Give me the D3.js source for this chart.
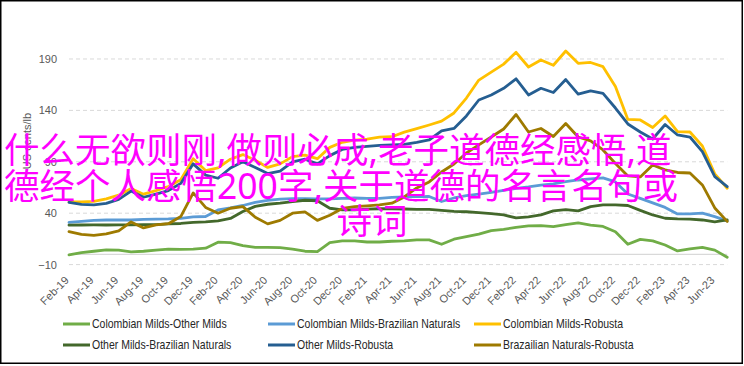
<!DOCTYPE html>
<html><head><meta charset="utf-8">
<script src="https://cdn.jsdelivr.net/npm/d3@7"></script>
<style>
html,body{margin:0;padding:0;background:#fff;}
svg{display:block;}
</style></head>
<body><svg id="c" width="744" height="366"></svg>
<script>
const months = ["Feb-19","Mar-19","Apr-19","May-19","Jun-19","Jul-19","Aug-19","Sep-19","Oct-19","Nov-19","Dec-19",
"Jan-20","Feb-20","Mar-20","Apr-20","May-20","Jun-20","Jul-20","Aug-20","Sep-20","Oct-20","Nov-20","Dec-20",
"Jan-21","Feb-21","Mar-21","Apr-21","May-21","Jun-21","Jul-21","Aug-21","Sep-21","Oct-21","Nov-21","Dec-21",
"Jan-22","Feb-22","Mar-22","Apr-22","May-22","Jun-22","Jul-22","Aug-22","Sep-22","Oct-22","Nov-22","Dec-22",
"Jan-23","Feb-23","Mar-23","Apr-23","May-23","Jun-23","Jul-23"];
const xTickLabels = months.filter((m,i)=>i%2===0);
const yTickValues = [-10, 40, 90, 140, 190];

const seriesNames = ["Colombian Milds-Other Milds","Colombian Milds-Brazilian Naturals","Colombian Milds-Robusta",
"Other Milds-Brazilian Naturals","Other Milds-Robusta","Brazailian Naturals-Robusta"];
const seriesColors = ["#70AD47","#5B9BD5","#FFC000","#43682B","#255E91","#9E7A00"];

const colOther = [-0.6,1.7,3.0,4.3,4.0,2.3,3.0,4.0,5.0,4.9,5.0,6.0,11.8,11.3,8.5,6.7,6.8,6.5,5.0,3.0,2.7,11.4,13.0,13.0,12.0,12.0,12.7,13.0,14.0,14.0,9.8,14.7,17.2,19.7,23.0,24.2,26.3,27.6,27.9,26.9,28.9,30.5,28.4,27.1,22.0,9.8,14.5,13.0,9.1,3.3,5.2,6.7,4.1,-2.8];
const colBraz = [31.0,32.0,33.0,33.4,33.4,33.4,33.9,34.2,34.4,34.9,36.4,36.8,43.2,45.1,47.5,50.5,52.4,53.6,54.2,54.1,53.9,53.9,54.4,54.8,54.4,54.4,55.3,55.8,56.1,56.3,51.4,54.8,57.0,58.5,60.2,62.1,64.1,65.5,67.3,68.4,70.6,72.3,73.3,74.3,70.4,58.7,54.4,50.0,45.6,39.3,39.3,40.0,36.7,32.5];
const colRob = [51,51,51.5,54,57.5,64,58.5,62,66,72.5,93,81.5,84,92.5,97,91.5,84.5,88,95,96.5,93,104,109,111,112,114,114.4,118.8,122.2,125.8,129.6,137.5,152.0,169.5,177.2,185.0,196.5,182.2,189.0,183.9,197.8,185.8,186.6,182.5,163.2,131.2,130.7,123.4,134.6,119.3,119.0,105.4,78.2,64.3];
const otherBraz = [28.4,28.5,28.6,28.5,28.7,28.6,28.8,28.9,29.6,30.0,31.0,31.5,32.5,34.9,41.7,46.6,48.7,49.7,51.2,52.6,52.1,44.8,43.2,43.2,43.9,44.3,44.3,44.1,43.7,43.7,42.7,41.7,41.4,40.5,39.5,38.3,35.4,36.4,38.3,42.2,43.5,42.2,46.4,48.0,48.0,47.5,42.7,38.3,35.1,34.4,34.2,33.4,31.5,33.4];
const otherRob = [50.5,48.5,48,49.5,53.5,61.5,55.5,58.5,62,69,88,77,74,84,90,84.5,78.5,81,90,92.5,88,96,102,104,105,106,106.5,107,108.8,111.2,120,122.4,134.6,150.1,155,161.5,170.7,155,161.5,157.4,170,155.8,158.9,156.6,142.3,126.8,119,112.2,126.3,116.1,114.1,99.9,75.5,65.8];
const brazRob = [22.1,19.3,18.4,19.8,22.8,31.5,25.7,28.6,29.8,36.7,59.7,45.6,40,44.8,46.4,36,29.6,33.0,40.0,41.2,33,38,44.6,46.4,47.2,48.0,49.7,55.8,64.6,70.4,80.1,87.9,98.6,106.4,114.1,121.9,136.0,119.0,122.4,114.6,127.3,114.1,110.3,101.5,88.4,76.2,75.3,86.9,82.1,79.6,79.1,67.5,45.1,32.0];
const seriesValues = [colOther, colBraz, colRob, otherBraz, otherRob, brazRob];

const yTitle = "US cents/lb";
const overlayLines = ["什么无欲则刚,做则必成,老子道德经感悟,道","德经个人感悟200字,关于道德的名言名句或","诗词"];

const svg = d3.select("#c");
svg.append("rect").attr("x",0.75).attr("y",0.75).attr("width",741.5).attr("height",362.5)
  .attr("fill","#fff").attr("stroke","#000").attr("stroke-width",1.5);

const x = d3.scalePoint().domain(months).range([69, 727.2]);
const y = d3.scaleLinear().domain([-10, 200]).range([264.6, 48.7]);

// gridlines
svg.append("g").selectAll("line").data(yTickValues).join("line")
  .attr("x1",69).attr("x2",727.2).attr("y1",d=>y(d)).attr("y2",d=>y(d))
  .attr("stroke","#d9d9d9").attr("stroke-width",1).attr("stroke-dasharray","4,3");
svg.append("line").attr("x1",69).attr("x2",727.2).attr("y1",y(0)).attr("y2",y(0))
  .attr("stroke","#d9d9d9").attr("stroke-width",1.2);

// y axis
const yAxis = svg.append("g").attr("transform","translate(69,0)")
  .call(d3.axisLeft(y).tickValues(yTickValues).tickSize(0).tickPadding(12));
yAxis.select(".domain").remove();
yAxis.selectAll("text").attr("font-family","'Liberation Sans', Arial, sans-serif")
  .attr("font-size",11).attr("fill","#595959");

// x axis
const xAxis = svg.append("g").attr("transform","translate(0,281)")
  .call(d3.axisBottom(x).tickValues(xTickLabels).tickSize(0).tickPadding(0));
xAxis.select(".domain").remove();
xAxis.selectAll("text").attr("y",0).attr("dy",0).attr("x",0)
  .attr("transform","rotate(-45)").style("text-anchor","end")
  .attr("font-family","'Liberation Sans', Arial, sans-serif").attr("font-size",11).attr("fill","#595959");

// y title
svg.append("text").attr("transform","translate(31,141) rotate(-90)")
  .attr("text-anchor","middle").attr("font-family","'Liberation Sans', Arial, sans-serif")
  .attr("font-size",11).attr("fill","#595959").text(yTitle);

// lines
const line = d3.line().x((d,i)=>x(months[i])).y(d=>y(d));
svg.append("g").selectAll("path").data(seriesValues).join("path")
  .attr("d",d=>line(d)).attr("fill","none")
  .attr("stroke",(d,i)=>seriesColors[i]).attr("stroke-width",2.8)
  .attr("stroke-linejoin","round").attr("stroke-linecap","round");

// legend
const legCols = [63, 268, 474], legRows = [324, 345];
const leg = svg.append("g").selectAll("g").data(seriesNames).join("g")
  .attr("transform",(d,i)=>`translate(${legCols[i%3]},${legRows[Math.floor(i/3)]})`);
leg.append("line").attr("x1",0).attr("x2",27).attr("y1",0).attr("y2",0)
  .attr("stroke",(d,i)=>seriesColors[i]).attr("stroke-width",3);
leg.append("text").attr("transform","translate(29,4) scale(0.875,1)")
  .attr("font-family","'Liberation Sans', Arial, sans-serif")
  .attr("font-size",12).attr("fill","#262626").text(d=>d);

// overlay
const ov = svg.append("g").attr("font-family","'Noto Sans', 'Noto Sans CJK SC', sans-serif")
  .attr("font-size",35.5).attr("fill","#ff00ff");
ov.selectAll("text").data(overlayLines).join("text")
  .attr("x",(d,i)=> i<2 ? 4 : 372).attr("y",(d,i)=>163 + i*35.5)
  .attr("text-anchor",(d,i)=> i<2 ? "start" : "middle").text(d=>d);
</script></body></html>
